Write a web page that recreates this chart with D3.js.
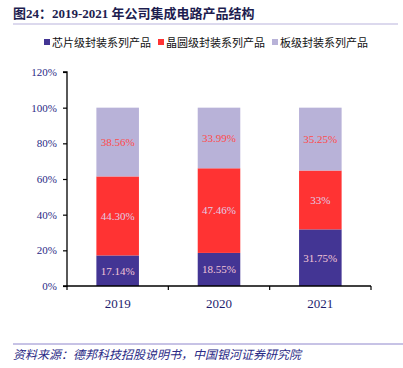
<!DOCTYPE html>
<html>
<head>
<meta charset="utf-8">
<script src="https://cdn.jsdelivr.net/npm/d3@7"></script>
<style>
  body { margin: 0; background: #fff; }
  svg { display: block; }
</style>
</head>
<body>
<div class="container"></div>
<script>
// chart data
const years = ["2019", "2020", "2021"];
const seriesNames = ["芯片级封装系列产品", "晶圆级封装系列产品", "板级封装系列产品"];
const chipValues = [17.14, 18.55, 31.75];
const waferValues = [44.30, 47.46, 33];
const boardValues = [38.56, 33.99, 35.25];
const chipLabels = ["17.14%", "18.55%", "31.75%"];
const waferLabels = ["44.30%", "47.46%", "33%"];
const boardLabels = ["38.56%", "33.99%", "35.25%"];
const yTicks = [0, 20, 40, 60, 80, 100, 120];

const width = 403, height = 368;
const serif = "'Liberation Serif', 'Times New Roman', 'Noto Sans CJK SC', serif";
const cjk = "'Liberation Serif', 'Noto Sans CJK SC', sans-serif";

const colors = ["#433594", "#FF3333", "#B8B2D8"];
const labelColors = ["#F3C6D6", "#E2CDE6", "#FF4A4A"];

const svg = d3.select(".container")
    .append("svg")
    .attr("width", width)
    .attr("height", height);

// title + rule
svg.append("text")
    .attr("x", 13)
    .attr("y", 18)
    .attr("font-family", cjk)
    .attr("font-weight", "bold")
    .attr("font-size", "13px")
    .attr("fill", "#1d1d4f")
    .text("图24：2019-2021 年公司集成电路产品结构");

svg.append("line")
    .attr("x1", 13).attr("x2", 398)
    .attr("y1", 24).attr("y2", 24)
    .attr("stroke", "#b9b3dc")
    .attr("stroke-width", 1);

// scales
const x = d3.scaleBand().domain(years).range([67, 371]).paddingInner(0.58).paddingOuter(0.29);
const y = d3.scaleLinear().domain([0, 120]).range([286, 72]);

const rows = years.map((yr, i) => ({
    year: yr,
    values: [chipValues[i], waferValues[i], boardValues[i]],
    labels: [chipLabels[i], waferLabels[i], boardLabels[i]],
}));

const keys = [0, 1, 2];
const stack = d3.stack()
    .keys(keys)
    .value((d, k) => d.values[k]);
const stacked = stack(rows);

// bars
const layer = svg.selectAll("g.layer")
    .data(stacked)
    .enter()
    .append("g")
    .attr("class", "layer")
    .attr("fill", (d, i) => colors[i]);

layer.selectAll("rect")
    .data((d) => d)
    .enter()
    .append("rect")
    .attr("x", (d) => x(d.data.year))
    .attr("y", (d) => y(d[1]))
    .attr("width", x.bandwidth())
    .attr("height", (d) => y(d[0]) - y(d[1]));

// segment labels
stacked.forEach((s, i) => {
    svg.selectAll("text.lbl" + i)
        .data(s)
        .enter()
        .append("text")
        .attr("class", "lbl" + i)
        .attr("x", (d) => x(d.data.year) + x.bandwidth() / 2)
        .attr("y", (d) => (y(d[0]) + y(d[1])) / 2)
        .attr("dy", "0.35em")
        .attr("text-anchor", "middle")
        .attr("font-family", serif)
        .attr("font-size", "11px")
        .attr("fill", labelColors[i])
        .text((d) => d.data.labels[i]);
});

// y axis
const yAxis = svg.append("g")
    .attr("transform", "translate(67,0)")
    .call(d3.axisLeft(y).tickValues(yTicks).tickSize(4).tickPadding(6).tickFormat((d) => d + "%"));
yAxis.select(".domain").attr("stroke", "#000").attr("stroke-width", 1.3).attr("d", "M-4,72H0V286H-4");
yAxis.selectAll(".tick line").attr("stroke", "#000").attr("stroke-width", 1.2);
yAxis.selectAll(".tick text")
    .attr("font-family", serif)
    .attr("font-size", "11px")
    .attr("fill", "#2a2a86");

// x axis
const xAxis = svg.append("g")
    .attr("transform", "translate(0,286)");
xAxis.append("line")
    .attr("x1", 67).attr("x2", 371)
    .attr("stroke", "#000").attr("stroke-width", 1.3);
const bounds = [67].concat(years.map((yr) => x(yr) + x.bandwidth() / 2 + x.step() / 2));
xAxis.selectAll("line.tk")
    .data(bounds)
    .enter()
    .append("line")
    .attr("class", "tk")
    .attr("x1", (d) => d).attr("x2", (d) => d)
    .attr("y1", 0).attr("y2", 4)
    .attr("stroke", "#000").attr("stroke-width", 1.2);
xAxis.selectAll("text")
    .data(years)
    .enter()
    .append("text")
    .attr("x", (d) => x(d) + x.bandwidth() / 2)
    .attr("y", 22)
    .attr("text-anchor", "middle")
    .attr("font-family", serif)
    .attr("font-size", "13px")
    .attr("fill", "#1d1d6e")
    .text((d) => d);

// legend
const legendX = [44, 158, 272];
const legend = svg.selectAll("g.legend")
    .data(seriesNames)
    .enter()
    .append("g")
    .attr("class", "legend")
    .attr("transform", (d, i) => `translate(${legendX[i]},43)`);
legend.append("rect")
    .attr("x", 0).attr("y", -4)
    .attr("width", 6).attr("height", 6)
    .attr("fill", (d, i) => colors[i]);
legend.append("text")
    .attr("x", 8)
    .attr("y", 0)
    .attr("dy", "0.35em")
    .attr("font-family", cjk)
    .attr("font-size", "11px")
    .attr("fill", "#111")
    .text((d) => d);

// source footer
svg.append("line")
    .attr("x1", 13).attr("x2", 403)
    .attr("y1", 344).attr("y2", 344)
    .attr("stroke", "#8f86cc")
    .attr("stroke-width", 1);
svg.append("text")
    .attr("x", 13)
    .attr("y", 359)
    .attr("font-family", cjk)
    .attr("font-style", "italic")
    .attr("font-size", "12px")
    .attr("fill", "#2a2a86")
    .text("资料来源：德邦科技招股说明书，中国银河证券研究院");
</script>
</body>
</html>
